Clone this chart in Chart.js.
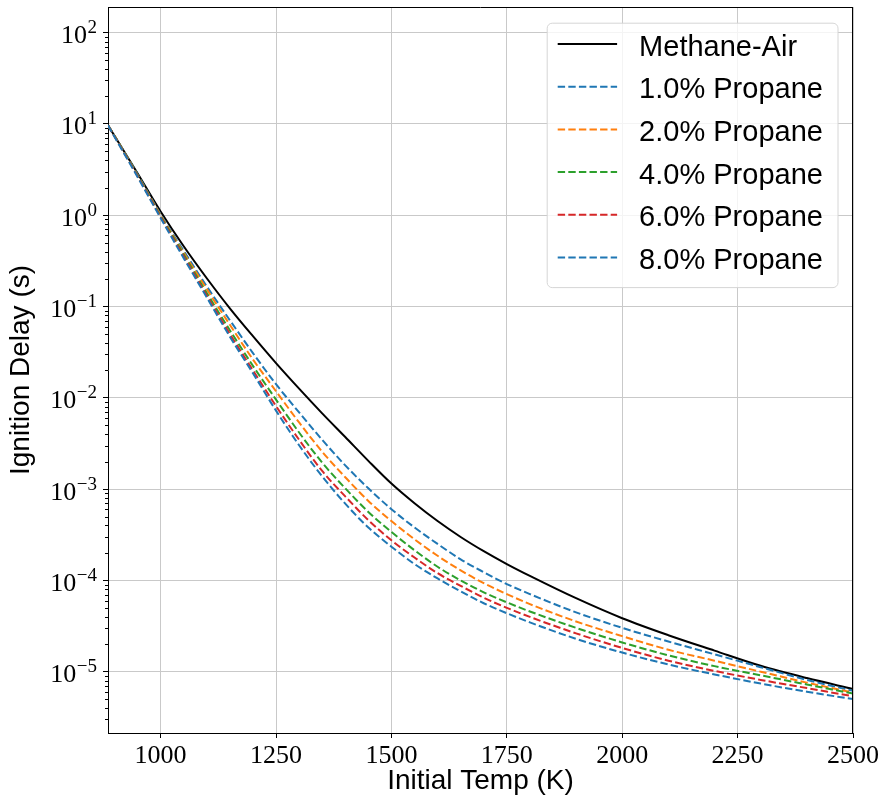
<!DOCTYPE html>
<html><head><meta charset="utf-8">
<script src="https://cdn.jsdelivr.net/npm/chart.js@4.4.1/dist/chart.umd.min.js"></script>
<style>html,body{margin:0;padding:0;background:#fff;}#wrap{width:881px;height:802px;}</style>
</head><body><div id="wrap"><canvas id="c" width="881" height="802"></canvas></div>
<script>
// Initial temperature (K)
const temps = [886, 900, 950, 1000, 1050, 1100, 1150, 1200, 1250, 1300, 1350, 1400, 1450, 1500, 1550, 1600, 1650, 1700, 1750, 1800, 1900, 2000, 2100, 2200, 2300, 2400, 2500];
// Ignition delay (s)
const methaneAir = [9.66, 7.41, 2.88, 1.10, 0.457, 0.204, 0.0955, 0.0473, 0.0240, 0.0126, 0.00676, 0.00372, 0.00204, 0.00115, 7.00e-4, 4.47e-4, 2.99e-4, 2.09e-4, 1.51e-4, 1.12e-4, 6.38e-5, 3.85e-5, 2.51e-5, 1.70e-5, 1.16e-5, 8.51e-6, 6.46e-6];
const propane1 = [9.66, 7.41, 2.82, 1.02, 0.407, 0.166, 0.0708, 0.0309, 0.0141, 0.00692, 0.00347, 0.00182, 0.00102, 6.03e-4, 3.80e-4, 2.51e-4, 1.70e-4, 1.23e-4, 9.12e-5, 7.08e-5, 4.47e-5, 3.02e-5, 2.14e-5, 1.55e-5, 1.12e-5, 8.13e-6, 6.17e-6];
const propane2 = [9.66, 7.41, 2.75, 1.00, 0.389, 0.155, 0.0631, 0.0263, 0.0118, 0.00537, 0.00257, 0.00135, 7.41e-4, 4.47e-4, 2.82e-4, 1.86e-4, 1.29e-4, 9.33e-5, 7.08e-5, 5.50e-5, 3.55e-5, 2.45e-5, 1.74e-5, 1.32e-5, 1.00e-5, 7.59e-6, 5.89e-6];
const propane4 = [9.66, 7.41, 2.75, 0.977, 0.372, 0.141, 0.0550, 0.0224, 0.00955, 0.00417, 0.00195, 0.00102, 5.62e-4, 3.39e-4, 2.14e-4, 1.41e-4, 1.00e-4, 7.41e-5, 5.75e-5, 4.57e-5, 3.02e-5, 2.09e-5, 1.51e-5, 1.15e-5, 9.12e-6, 7.24e-6, 5.75e-6];
const propane6 = [9.66, 7.33, 2.69, 0.955, 0.355, 0.132, 0.0501, 0.0200, 0.00813, 0.00347, 0.00158, 8.32e-4, 4.57e-4, 2.75e-4, 1.78e-4, 1.20e-4, 8.71e-5, 6.46e-5, 5.01e-5, 3.98e-5, 2.63e-5, 1.82e-5, 1.32e-5, 1.02e-5, 8.13e-6, 6.61e-6, 5.37e-6];
const propane8 = [9.66, 7.24, 2.63, 0.933, 0.339, 0.126, 0.0468, 0.0186, 0.00724, 0.00302, 0.00138, 6.92e-4, 3.80e-4, 2.34e-4, 1.51e-4, 1.05e-4, 7.59e-5, 5.62e-5, 4.37e-5, 3.47e-5, 2.29e-5, 1.62e-5, 1.20e-5, 9.33e-6, 7.41e-6, 6.03e-6, 5.01e-6];
const seriesLabels = ['Methane-Air', '1.0% Propane', '2.0% Propane', '4.0% Propane', '6.0% Propane', '8.0% Propane'];
const xTicks = [1000, 1250, 1500, 1750, 2000, 2250, 2500];
const yDecadeExponents = [-6, -5, -4, -3, -2, -1, 0, 1, 2];

const X_MIN = 886, X_MAX = 2500, Y_MIN = 2.13e-6, Y_MAX = 191;
const GRID = '#c9c9c9';
const SERIF = '"Liberation Serif", "Times New Roman", serif';
const SANS = '"Liberation Sans", Arial, sans-serif';
function isDecade(v){ const e = Math.log10(v); return Math.abs(e - Math.round(e)) < 1e-6; }
function expStr(n){ return String(n).replace('-', '\u2212'); }

const seriesValues = [methaneAir, propane1, propane2, propane4, propane6, propane8];
const colors = ['#000000', '#1f77b4', '#ff7f0e', '#2ca02c', '#d62728', '#1f77b4'];
const datasets = seriesValues.map((vals, i) => ({
  label: seriesLabels[i],
  data: temps.map((t, j) => ({x: t, y: vals[j]})),
  borderColor: colors[i],
  backgroundColor: colors[i],
  borderWidth: 2,
  borderDash: i === 0 ? [] : [7.4, 3.2],
  pointRadius: 0,
  fill: false,
  cubicInterpolationMode: 'monotone',
  order: seriesValues.length - 1 - i
}));

const framePlugin = {
  id: 'frameAndLegend',
  afterDatasetsDraw(chart) {
    const ctx = chart.ctx, a = chart.chartArea;
    ctx.save();
    // top and right spines
    ctx.strokeStyle = '#000'; ctx.lineWidth = 1;
    ctx.beginPath();
    ctx.moveTo(a.left, a.top + 0.5); ctx.lineTo(a.right, a.top + 0.5);
    ctx.moveTo(a.right - 0.5, a.top); ctx.lineTo(a.right - 0.5, a.bottom);
    ctx.stroke();
    const ys = chart.scales.y;
    // minor ticks (shorter)
    ctx.beginPath();
    ys.ticks.forEach(t => {
      if (isDecade(t.value)) return;
      const py = Math.round(ys.getPixelForValue(t.value)) + 0.5;
      ctx.moveTo(a.left - 3, py); ctx.lineTo(a.left, py);
    });
    ctx.strokeStyle = '#000'; ctx.lineWidth = 1; ctx.stroke();
    // y tick labels as 10 with raised exponent
    ctx.fillStyle = '#000'; ctx.textBaseline = 'alphabetic'; ctx.textAlign = 'right';
    ys.ticks.forEach(t => {
      if (!isDecade(t.value)) return;
      const py = ys.getPixelForValue(t.value);
      const e = expStr(Math.round(Math.log10(t.value)));
      const xr = a.left - 11;
      ctx.font = '19px ' + SERIF;
      const ew = ctx.measureText(e).width;
      ctx.fillText(e, xr, py + 0.5);
      ctx.font = '26px ' + SERIF;
      ctx.fillText('10', xr - ew - 0.5, py + 10.5);
    });
    // legend
    const ds = chart.data.datasets;
    ctx.font = '29px ' + SANS;
    let maxW = 0;
    ds.forEach(d => { maxW = Math.max(maxW, ctx.measureText(d.label).width); });
    const padL = 11, lineLen = 59.4, gap = 22, padR = 14.6, rowH = 42.7, firstRow = 21.3;
    const w = padL + lineLen + gap + maxW + padR;
    const h = firstRow + rowH * (ds.length - 1) + 29.6;
    const right = a.right - 15.5, top = a.top + 15.7, left = right - w;
    ctx.beginPath();
    if (ctx.roundRect) ctx.roundRect(left + 0.5, top + 0.5, w, h, 5); else ctx.rect(left + 0.5, top + 0.5, w, h);
    ctx.fillStyle = 'rgba(255,255,255,0.8)'; ctx.fill();
    ctx.strokeStyle = '#d6d6d6'; ctx.lineWidth = 1; ctx.stroke();
    ds.forEach((d, i) => {
      const cy = top + firstRow + i * rowH;
      ctx.beginPath();
      ctx.setLineDash(d.borderDash || []);
      ctx.strokeStyle = d.borderColor; ctx.lineWidth = d.borderWidth;
      ctx.moveTo(left + padL, cy); ctx.lineTo(left + padL + lineLen, cy);
      ctx.stroke();
      ctx.setLineDash([]);
      ctx.fillStyle = '#000'; ctx.textAlign = 'left'; ctx.textBaseline = 'alphabetic';
      ctx.fillText(d.label, left + padL + lineLen + gap, cy + 11.5);
    });
    ctx.restore();
  }
};

new Chart(document.getElementById('c'), {
  type: 'line',
  data: { datasets },
  options: {
    responsive: false, animation: false, devicePixelRatio: 1,
    layout: { padding: { left: 0, right: 28, top: 7, bottom: 0 } },
    plugins: { legend: { display: false }, tooltip: { enabled: false } },
    scales: {
      x: {
        type: 'linear', min: X_MIN, max: X_MAX,
        afterBuildTicks(s) { s.ticks = xTicks.map(v => ({ value: v })); },
        afterFit(s) { s.height = 69; s.paddingLeft = 0; s.paddingRight = 0; },
        ticks: { color: '#000', font: { family: SERIF, size: 26 }, padding: 3, maxRotation: 0, autoSkip: false, callback: v => String(v) },
        grid: { color: GRID, lineWidth: 1, tickLength: 5, tickColor: '#000', tickWidth: 1 },
        border: { color: '#000', width: 1 },
        title: { display: true, text: 'Initial Temp (K)', color: '#000', font: { family: SANS, size: 28 }, padding: { top: 0, bottom: 4 } }
      },
      y: {
        type: 'logarithmic', min: Y_MIN, max: Y_MAX,
        afterBuildTicks(s) {
          const t = [];
          yDecadeExponents.forEach(e => {
            for (let k = 1; k <= 9; k++) {
              const v = parseFloat((k * Math.pow(10, e)).toPrecision(3));
              if (v >= Y_MIN && v <= Y_MAX) t.push({ value: v });
            }
          });
          s.ticks = t;
        },
        afterFit(s) { s.width = 108; s.paddingTop = 0; s.paddingBottom = 0; },
        ticks: { display: false, autoSkip: false,
          callback: v => isDecade(v) ? '10^' + Math.round(Math.log10(v)) : '' },
        grid: { color: c => (c.tick && isDecade(c.tick.value)) ? GRID : 'rgba(0,0,0,0)', lineWidth: 1, tickLength: 5,
                tickColor: c => (c.tick && isDecade(c.tick.value)) ? '#000' : 'rgba(0,0,0,0)', tickWidth: 1 },
        border: { color: '#000', width: 1 },
        title: { display: true, text: 'Ignition Delay (s)', color: '#000', font: { family: SANS, size: 28 }, padding: { top: 4, bottom: 0 } }
      }
    }
  },
  plugins: [framePlugin]
});
</script>
</body></html>
